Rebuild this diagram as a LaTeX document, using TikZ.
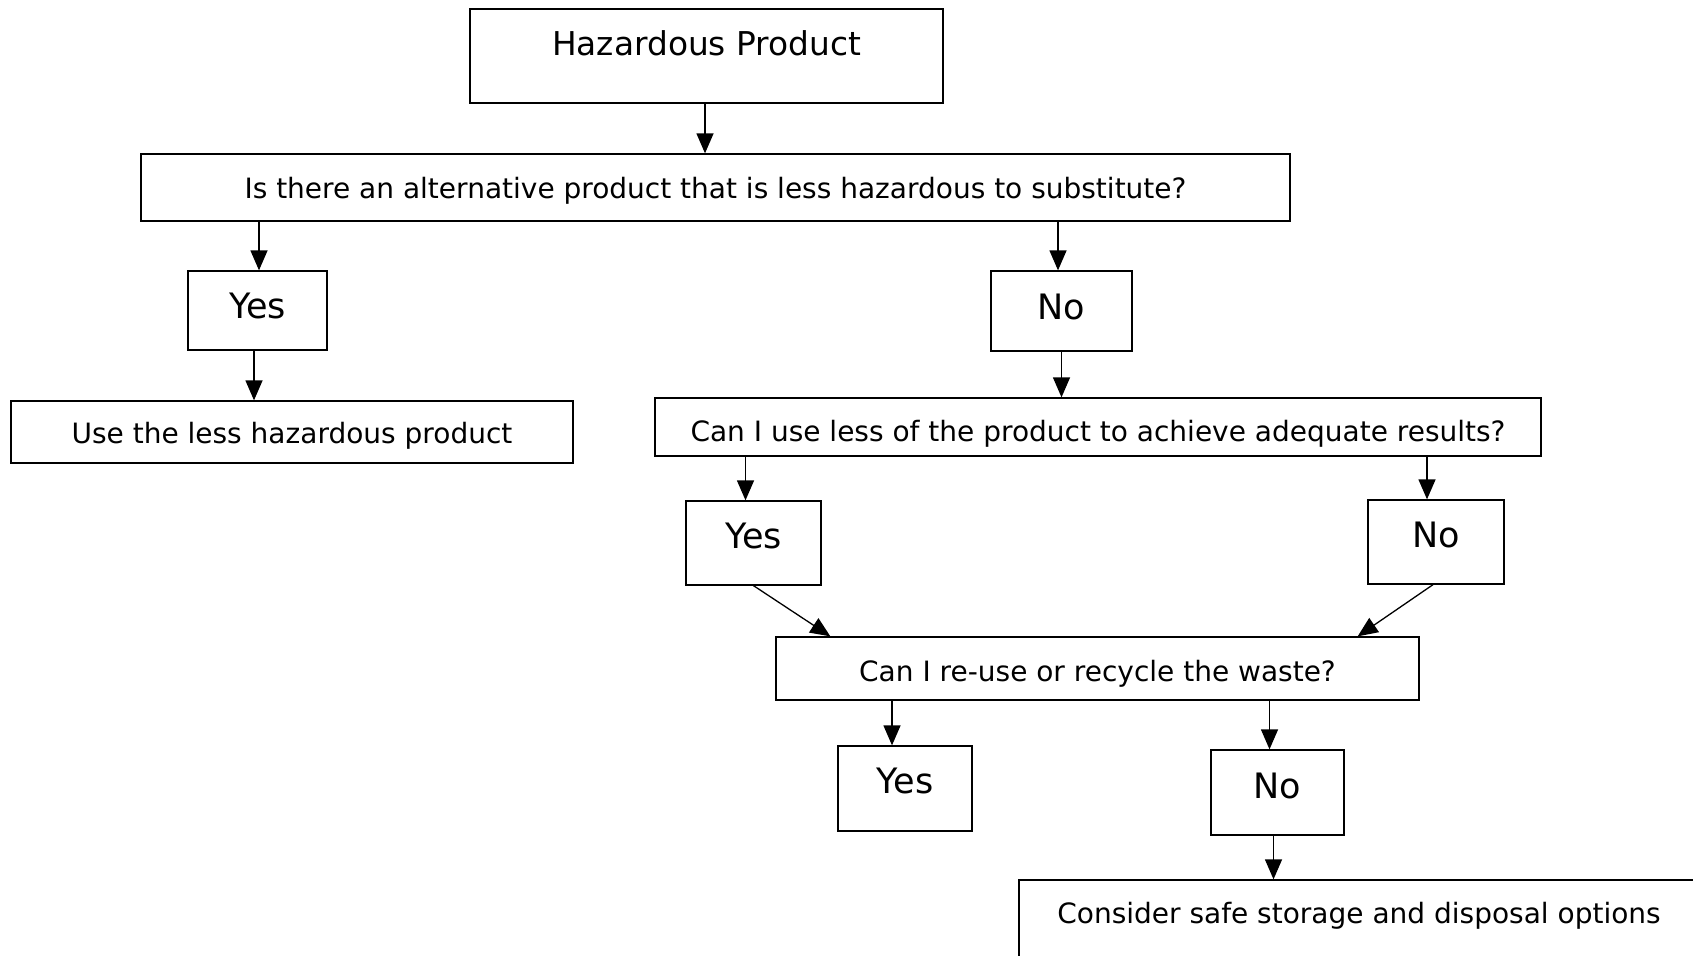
\documentclass[tikz,border=0pt]{standalone}
\usepackage{fontspec}
\setmainfont{DejaVu Sans}
\usetikzlibrary{arrows.meta}
\tikzset{
  box/.style={draw=black, line width=1.3pt, rectangle, inner sep=0pt, fill=white},
  fq/.style={font=\fontsize{28}{32}\selectfont},
  fyn/.style={font=\fontsize{35}{40}\selectfont},
  arr/.style={line width=1.3pt, -{Triangle[length=20pt,width=17pt]}}
}
\begin{document}
\begin{tikzpicture}[x=1pt,y=-1pt]
\clip (0,0) rectangle (1693,955);
\fill[white] (0,0) rectangle (1693,955);
% boxes
\node[box, minimum width=473pt, minimum height=94pt,
  label={[yshift=13pt,font=\fontsize{32.8}{36}\selectfont]center:Hazardous Product}] (haz) at (706.5,56) {};
\node[box, minimum width=1149pt, minimum height=67pt,
  label={[yshift=-3pt,fq]center:Is there an alternative product that is less hazardous to substitute?}] (q1) at (715.5,187.5) {};
\node[box, minimum width=139pt, minimum height=79pt,
  label={[yshift=5pt,fyn]center:Yes}] (yes1) at (257.5,310.5) {};
\node[box, minimum width=141pt, minimum height=80pt,
  label={[yshift=4.5pt,fyn]center:No}] (no1) at (1061.5,311) {};
\node[box, minimum width=562pt, minimum height=62pt,
  label={[yshift=-4pt,fq]center:Use the less hazardous product}] (use) at (292,432) {};
\node[box, minimum width=886pt, minimum height=58pt,
  label={[yshift=-7pt,fq]center:Can I use less of the product to achieve adequate results?}] (q2) at (1098,427) {};
\node[box, minimum width=135pt, minimum height=84pt,
  label={[yshift=7.5pt,fyn]center:Yes}] (yes2) at (753.5,543) {};
\node[box, minimum width=136pt, minimum height=84pt,
  label={[yshift=7.5pt,fyn]center:No}] (no2) at (1436,542) {};
\node[box, minimum width=643pt, minimum height=63pt,
  label={[yshift=-5pt,fq]center:Can I re-use or recycle the waste?}] (q3) at (1097.5,668.5) {};
\node[box, minimum width=134pt, minimum height=85pt,
  label={[yshift=8pt,fyn]center:Yes}] (yes3) at (905,788.5) {};
\node[box, minimum width=133pt, minimum height=85pt,
  label={[yshift=6.5pt,fyn]center:No}] (no3) at (1277.5,792.5) {};
\node[box, minimum width=694pt, minimum height=110pt,
  label={[yshift=19pt,xshift=-7pt,fq]center:Consider safe storage and disposal options}] (cons) at (1366,935) {};
% connectors
\draw[arr] ([xshift=-1.5pt]haz.south) -- ([xshift=-1.5pt]haz.south |- q1.north);
\draw[arr] ([xshift=1.5pt]yes1.north |- q1.south) -- ([xshift=1.5pt]yes1.north);
\draw[arr] ([xshift=-3.5pt]no1.north |- q1.south) -- ([xshift=-3.5pt]no1.north);
\draw[arr] ([xshift=-3.5pt]yes1.south) -- ([xshift=-3.5pt]yes1.south |- use.north);
\draw[arr] (no1.south) -- (no1.south |- q2.north);
\draw[arr] ([xshift=-8pt]yes2.north |- q2.south) -- ([xshift=-8pt]yes2.north);
\draw[arr] ([xshift=-9pt]no2.north |- q2.south) -- ([xshift=-9pt]no2.north);
\draw[arr] (yes2.south) -- ([xshift=55pt]q3.north west);
\draw[arr] ([xshift=-3pt]no2.south) -- ([xshift=-62pt]q3.north east);
\draw[arr] ([xshift=-13pt]yes3.north |- q3.south) -- ([xshift=-13pt]yes3.north);
\draw[arr] ([xshift=-8pt]no3.north |- q3.south) -- ([xshift=-8pt]no3.north);
\draw[arr] ([xshift=-4pt]no3.south) -- ([xshift=-4pt]no3.south |- cons.north);
\end{tikzpicture}
\end{document}
